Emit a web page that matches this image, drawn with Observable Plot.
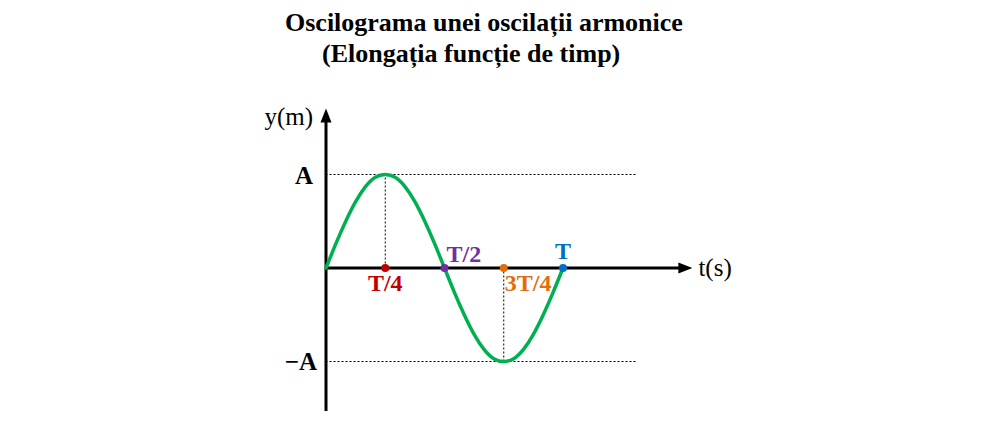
<!DOCTYPE html>
<html>
<head>
<meta charset="utf-8">
<script src="https://cdn.jsdelivr.net/npm/d3@7"></script>
<script src="https://cdn.jsdelivr.net/npm/@observablehq/plot@0.6"></script>
<style>
  html, body { margin: 0; padding: 0; background: #fff; }
  #title { height: 75px; font-family: "Liberation Serif", "Times New Roman", serif; font-weight: bold; font-size: 26px; color: #000; position: relative; }
  #title div { position: absolute; white-space: nowrap; line-height: 1; }
  #chart svg { display: block; }
  #chart svg text { font-family: "Liberation Serif", "Times New Roman", serif !important; }
</style>
</head>
<body>
<div id="title">
  <div id="t1" style="left:285px; top:10px;">Oscilograma unei oscilații armonice</div>
  <div id="t2" style="left:322px; top:41px;">(Elongația funcție de timp)</div>
</div>
<div id="chart"></div>
<script>
// time in units of the period T
const tValues = [0, 0.0417, 0.0833, 0.125, 0.1667, 0.2083, 0.25, 0.2917, 0.3333, 0.375, 0.4167, 0.4583, 0.5,
                 0.5417, 0.5833, 0.625, 0.6667, 0.7083, 0.75, 0.7917, 0.8333, 0.875, 0.9167, 0.9583, 1];
// elongation in units of the amplitude A
const yValues = [0, 0.26, 0.5, 0.71, 0.87, 0.97, 1, 0.97, 0.87, 0.71, 0.5, 0.26, 0,
                 -0.26, -0.5, -0.71, -0.87, -0.97, -1, -0.97, -0.87, -0.71, -0.5, -0.26, 0];

const keyLabels = ["T/4", "T/2", "3T/4", "T"];
const keyTimes = [0.25, 0.5, 0.75, 1];
const keyColors = ["#C00000", "#7030A0", "#E46C0A", "#0070C0"];

const yTickLabels = ["A", "\u2212A"];
const yTickValues = [1, -1];

const xAxisLabel = "t(s)";
const yAxisLabel = "y(m)";

const curve = tValues.map((t, i) => ({t, y: yValues[i]}));
const keys = keyTimes.map((t, i) => ({t, y: 0, label: keyLabels[i], color: keyColors[i]}));
const yTicks = yTickValues.map((v, i) => ({v, label: yTickLabels[i]}));

const xEnd = 1.546, yTop = 1.706, yBottom = -1.535, guideEnd = 1.314;

const arrowHead = {
  draw(ctx) {
    ctx.moveTo(0, 0);
    ctx.lineTo(-5.5, 14);
    ctx.lineTo(5.5, 14);
    ctx.closePath();
  }
};

const serif = "'Liberation Serif', serif";

const chart = Plot.plot({
  width: 1000,
  height: 348,
  margin: 0,
  x: {domain: [0, 1], range: [325.5, 562.5], axis: null},
  y: {domain: [-1, 1], range: [286, 99], axis: null},
  marks: [
    // dotted guides
    Plot.ruleY(yTickValues, {x1: 0, x2: guideEnd, stroke: "#000", strokeWidth: 1, strokeDasharray: "2,2"}),
    Plot.ruleX([keyTimes[0]], {y1: 0, y2: 1, stroke: "#000", strokeWidth: 1, strokeDasharray: "2,2"}),
    Plot.ruleX([keyTimes[2]], {y1: 0, y2: -1, stroke: "#000", strokeWidth: 1, strokeDasharray: "2,2"}),
    // axes
    Plot.ruleY([0], {x1: 0, x2: xEnd - 0.04, stroke: "#000", strokeWidth: 3}),
    Plot.ruleX([0], {y1: yBottom, y2: yTop - 0.1, stroke: "#000", strokeWidth: 3}),
    Plot.dot([{x: 0, y: yTop}], {x: "x", y: "y", symbol: arrowHead, fill: "#000", stroke: null, r: 5}),
    Plot.dot([{x: xEnd, y: 0}], {x: "x", y: "y", symbol: arrowHead, fill: "#000", stroke: null, r: 5, rotate: 90}),
    // curve
    Plot.line(curve, {x: "t", y: "y", stroke: "#00B050", strokeWidth: 3.5, curve: "natural"}),
    // key points
    Plot.dot(keys, {x: "t", y: "y", fill: "color", stroke: null, r: 4}),
    // key labels
    Plot.text(keys.filter((d, i) => i === 0), {x: "t", y: "y", text: "label", fill: "color", dy: 15, fontSize: 24, fontWeight: "bold", fontFamily: serif}),
    Plot.text(keys.filter((d, i) => i === 1), {x: "t", y: "y", text: "label", fill: "color", dy: -14, dx: 2, textAnchor: "start", fontSize: 24, fontWeight: "bold", fontFamily: serif}),
    Plot.text(keys.filter((d, i) => i === 2), {x: "t", y: "y", text: "label", fill: "color", dy: 15, dx: 1, textAnchor: "start", fontSize: 24, fontWeight: "bold", fontFamily: serif}),
    Plot.text(keys.filter((d, i) => i === 3), {x: "t", y: "y", text: "label", fill: "color", dy: -17, fontSize: 24, fontWeight: "bold", fontFamily: serif}),
    // y tick labels
    Plot.text(yTicks.filter((d, i) => i === 0), {x: 0, y: "v", text: "label", dx: -13, dy: 1, textAnchor: "end", fontSize: 25, fontWeight: "bold", fontFamily: serif, fill: "#000"}),
    Plot.text(yTicks.filter((d, i) => i === 1), {x: 0, y: "v", text: "label", dx: -9, textAnchor: "end", fontSize: 25, fontWeight: "bold", fontFamily: serif, fill: "#000"}),
    // axis labels
    Plot.text([yAxisLabel], {x: 0, y: yTop, text: d => d, dx: -13, dy: 9, textAnchor: "end", fontSize: 25, fontFamily: serif, fill: "#000"}),
    Plot.text([xAxisLabel], {x: xEnd, y: 0, text: d => d, dx: 6, textAnchor: "start", fontSize: 25, fontFamily: serif, fill: "#000"})
  ]
});
document.getElementById("chart").appendChild(chart);
</script>
</body>
</html>
